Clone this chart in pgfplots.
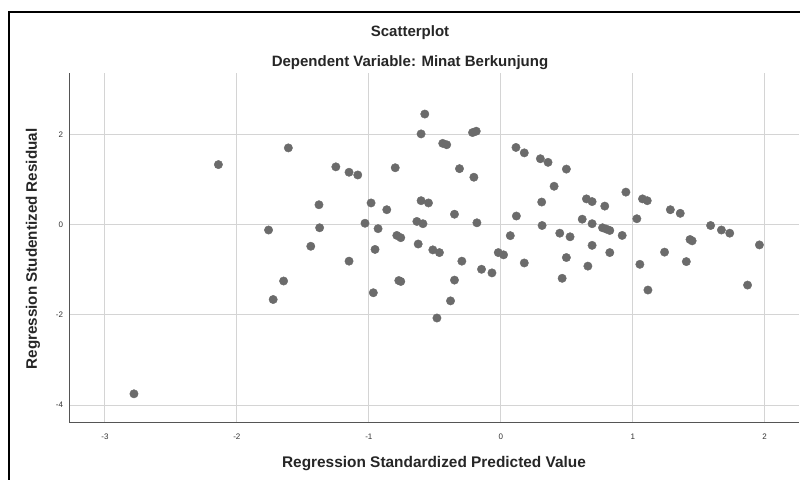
\documentclass[border=0pt]{standalone}
\usepackage{fontspec}
\setmainfont{Liberation Sans}
\usepackage{pgfplots}
\pgfplotsset{compat=1.18}
\definecolor{ptc}{HTML}{6B6B6B}
\definecolor{gridc}{HTML}{D4D4D4}
\definecolor{axc}{HTML}{555555}
\begin{document}
\begin{tikzpicture}[x=1pt,y=1pt]
\useasboundingbox (0,0) rectangle (800,479);
\begin{scope}
\clip (0,0) rectangle (800,479);
\fill[white] (0,0) rectangle (800,479);
\draw[line width=1.6pt] (9,-20) rectangle (830,467);
\begin{axis}[at={(69.3pt,56.3pt)}, anchor=south west, scale only axis,
  width=729.7pt, height=349.7pt,
  xmin=-3.27, xmax=2.26, ymin=-4.39, ymax=3.36,
  axis x line=bottom, axis y line=left,
  axis line style={axc, line width=1.3pt, -},
  xtick={-3,-2,-1,0,1,2}, ytick={-4,-2,0,2},
  grid=major, grid style={gridc, line width=1pt},
  major tick length=0pt,
  /pgf/number format/assume math mode=true,
  tick label style={font=\fontsize{8}{9}\selectfont, text=black!80},
  xticklabel style={anchor=center, yshift=-14pt},
  yticklabel style={anchor=east, inner sep=0pt, xshift=-6pt},
]
\addplot[only marks, mark=*, mark size=4.2pt, color=ptc] coordinates {
(-2.78,-3.75) (-2.14,1.33) (-1.76,-0.12) (-1.725,-1.66) (-1.646,-1.25)
(-1.61,1.70) (-1.44,-0.48) (-1.378,0.44) (-1.373,-0.07) (-1.25,1.28)
(-1.15,1.16) (-1.15,-0.81) (-1.084,1.10) (-1.029,0.03) (-0.983,0.48)
(-0.966,-1.51) (-0.953,-0.55) (-0.93,-0.09) (-0.864,0.33) (-0.80,1.26)
(-0.788,-0.24) (-0.758,-0.29) (-0.773,-1.24) (-0.758,-1.26) (-0.636,0.07)
(-0.626,-0.43) (-0.604,2.01) (-0.604,0.53) (-0.59,0.02) (-0.576,2.45)
(-0.548,0.48) (-0.515,-0.56) (-0.484,-2.07) (-0.465,-0.62) (-0.44,1.80)
(-0.41,1.77) (-0.381,-1.69) (-0.351,0.23) (-0.351,-1.23) (-0.313,1.24)
(-0.295,-0.81) (-0.214,2.04) (-0.204,1.05) (-0.186,2.07) (-0.181,0.04)
(-0.146,-0.99) (-0.067,-1.07) (-0.019,-0.62) (0.021,-0.67) (0.072,-0.245)
(0.115,1.71) (0.118,0.19) (0.178,1.59) (0.178,-0.85) (0.30,1.46)
(0.31,0.50) (0.313,-0.02) (0.358,1.38) (0.404,0.85) (0.447,-0.19)
(0.465,-1.19) (0.497,1.23) (0.497,-0.73) (0.525,-0.27) (0.617,0.12)
(0.649,0.57) (0.66,-0.92) (0.692,0.51) (0.692,0.02) (0.692,-0.46)
(0.771,-0.07) (0.788,0.41) (0.80,-0.10) (0.826,-0.13) (0.826,-0.62)
(0.92,-0.24) (0.948,0.72) (1.031,0.13) (1.054,-0.88) (1.074,0.57)
(1.11,0.53) (1.115,-1.45) (1.241,-0.61) (1.285,0.33) (1.36,0.25)
(1.406,-0.82) (1.434,-0.33) (1.45,-0.36) (1.59,-0.02) (1.672,-0.12)
(1.735,-0.19) (1.87,-1.34) (1.96,-0.45)
};
\end{axis}
\node[font=\fontsize{15}{17}\selectfont\bfseries, text=black!85] at (410,446) {Scatterplot};
\node[font=\fontsize{15}{17}\selectfont\bfseries, text=black!85] at (410,416) {Dependent Variable: Minat Berkunjung};
\node[font=\fontsize{15.4}{17}\selectfont\bfseries, text=black!85] at (434,15) {Regression Standardized Predicted Value};
\node[font=\fontsize{15.2}{17}\selectfont\bfseries, text=black!85, rotate=90] at (33,230) {Regression Studentized Residual};
\end{scope}
\end{tikzpicture}
\end{document}
